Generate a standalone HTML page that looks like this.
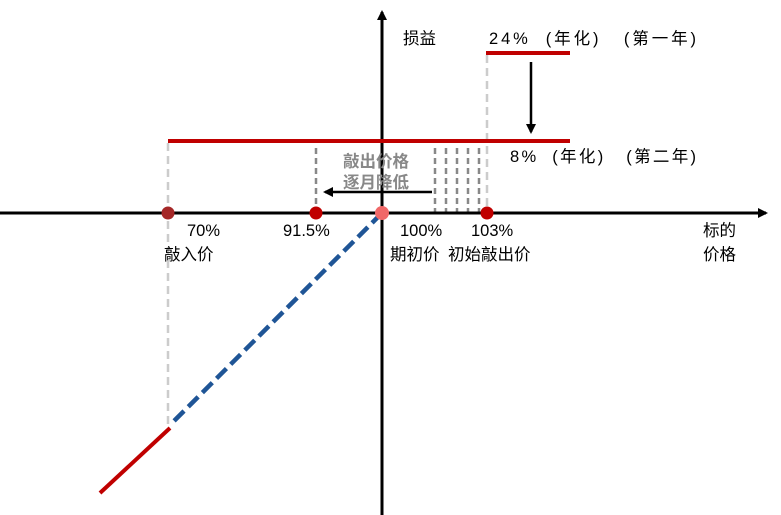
<!DOCTYPE html>
<html><head><meta charset="utf-8"><style>
body{margin:0;background:#fff;}
svg{display:block;}
text{font-family:"Liberation Sans","Noto Sans CJK SC",sans-serif;font-size:16.5px;fill:#000;}
</style></head><body>
<svg width="781" height="515" viewBox="0 0 781 515">
<defs>
<marker id="ah" markerWidth="10" markerHeight="10" refX="8" refY="5" orient="auto" markerUnits="userSpaceOnUse"><path d="M0,0 L10,5 L0,10 z" fill="#000"/></marker>
</defs>
<line x1="487" y1="55" x2="487" y2="212" stroke="#ccc" stroke-width="2.5" stroke-dasharray="8,5"/>
<line x1="168" y1="143" x2="168" y2="425" stroke="#ccc" stroke-width="2.5" stroke-dasharray="8,5"/>
<g stroke="#888" stroke-width="2.5" stroke-dasharray="6,4">
<line x1="316" y1="148" x2="316" y2="212"/>
<line x1="435" y1="148" x2="435" y2="212"/>
<line x1="446" y1="148" x2="446" y2="212"/>
<line x1="457" y1="148" x2="457" y2="212"/>
<line x1="468" y1="148" x2="468" y2="212"/>
<line x1="479" y1="148" x2="479" y2="212"/>
</g>
<line x1="0" y1="213" x2="766" y2="213" stroke="#000" stroke-width="3" marker-end="url(#ah)"/>
<line x1="382" y1="515" x2="382" y2="12" stroke="#000" stroke-width="3" marker-end="url(#ah)"/>
<line x1="486" y1="53" x2="570" y2="53" stroke="#c00000" stroke-width="4"/>
<line x1="168" y1="141" x2="570" y2="141" stroke="#c00000" stroke-width="4"/>
<line x1="531" y1="62" x2="531" y2="132" stroke="#000" stroke-width="2.5" marker-end="url(#ah)"/>
<line x1="432" y1="192" x2="325" y2="192" stroke="#000" stroke-width="2.5" marker-end="url(#ah)"/>
<line x1="382" y1="213" x2="170" y2="425" stroke="#1f5596" stroke-width="4.5" stroke-dasharray="14,6"/>
<line x1="170" y1="428" x2="100" y2="493" stroke="#c00000" stroke-width="4"/>
<circle cx="168" cy="213" r="6.5" fill="#a52828"/>
<circle cx="316" cy="213" r="6.5" fill="#c00000"/>
<circle cx="487" cy="213" r="6.5" fill="#c00000"/>
<circle cx="382" cy="213" r="7" fill="#f06868"/>
<text x="403" y="44">损益</text>
<text x="489" y="44" xml:space="preserve" textLength="207" lengthAdjust="spacing">24%  (年化)   (第一年)</text>
<text x="510" y="162" xml:space="preserve" textLength="186" lengthAdjust="spacing">8%  (年化)   (第二年)</text>
<text x="343" y="167" style="fill:#888;font-weight:bold">敲出价格</text>
<text x="343" y="188" style="fill:#888;font-weight:bold">逐月降低</text>
<text x="187" y="236">70%</text>
<text x="164" y="260">敲入价</text>
<text x="283" y="236">91.5%</text>
<text x="400" y="236">100%</text>
<text x="390" y="260">期初价</text>
<text x="471" y="236">103%</text>
<text x="448" y="260">初始敲出价</text>
<text x="703" y="236">标的</text>
<text x="703" y="260">价格</text>
</svg>
</body></html>
